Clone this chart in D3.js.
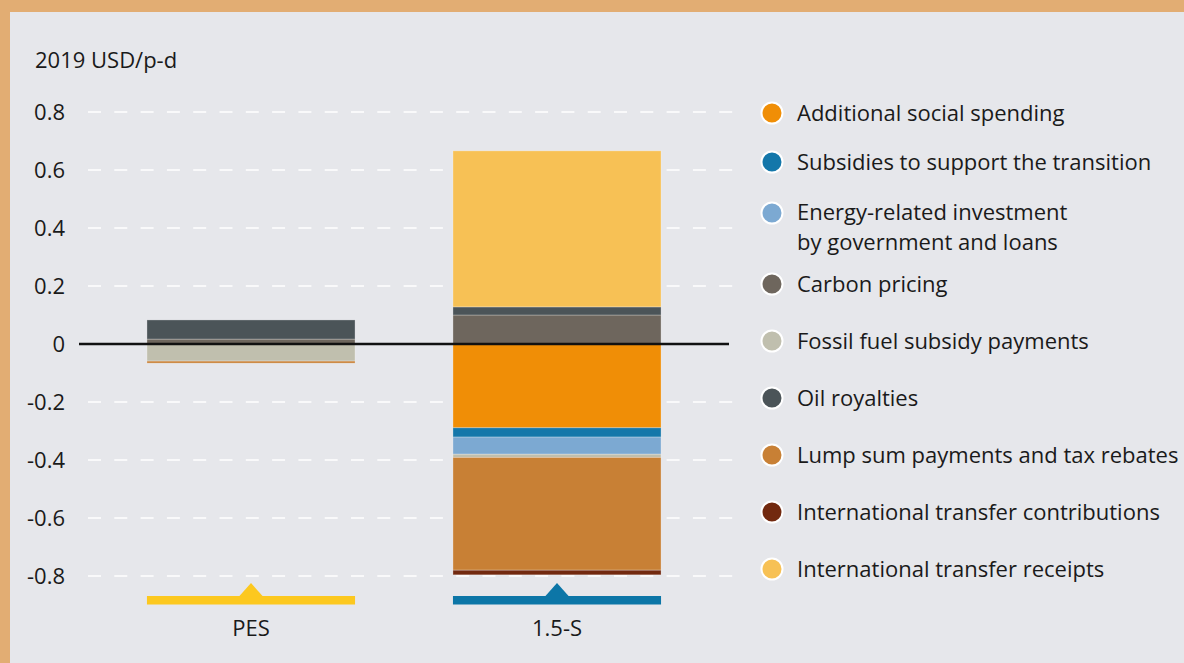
<!DOCTYPE html>
<html>
<head>
<meta charset="utf-8">
<script src="https://cdn.jsdelivr.net/npm/d3@7"></script>
<style>
  html, body { margin: 0; padding: 0; background: #E2AD73; }
  svg { display: block; }
</style>
</head>
<body>
<svg id="chart" width="1184" height="663"></svg>
<script>
// ---- data ----
const categories = ["PES", "1.5-S"];
const seriesNames = [
  "Additional social spending",
  "Subsidies to support the transition",
  "Energy-related investment by government and loans",
  "Carbon pricing",
  "Fossil fuel subsidy payments",
  "Oil royalties",
  "Lump sum payments and tax rebates",
  "International transfer contributions",
  "International transfer receipts"
];
const legendLabels = [
  ["Additional social spending"],
  ["Subsidies to support the transition"],
  ["Energy-related investment", "by government and loans"],
  ["Carbon pricing"],
  ["Fossil fuel subsidy payments"],
  ["Oil royalties"],
  ["Lump sum payments and tax rebates"],
  ["International transfer contributions"],
  ["International transfer receipts"]
];
const socialSpending   = [0, -0.289];
const subsidies        = [0, -0.032];
const energyInvestment = [0, -0.059];
const carbonPricing    = [0.017, 0.100];
const fossilSubsidy    = [-0.059, -0.011];
const oilRoyalties     = [0.066, 0.028];
const lumpSum          = [-0.007, -0.389];
const transferContrib  = [0, -0.016];
const transferReceipts = [0, 0.538];
const yTicks = [0.8, 0.6, 0.4, 0.2, 0, -0.2, -0.4, -0.6, -0.8];
const yTickLabels = ["0.8", "0.6", "0.4", "0.2", "0", "-0.2", "-0.4", "-0.6", "-0.8"];
const unitLabel = "2019 USD/p-d";

const seriesValues = [socialSpending, subsidies, energyInvestment, carbonPricing,
  fossilSubsidy, oilRoyalties, lumpSum, transferContrib, transferReceipts];
const colors = ["#F08E06", "#1477AA", "#7CA9D2", "#6E665D", "#C0BFAE",
  "#4B5458", "#C88035", "#72290F", "#F7C155"];
const markerColors = ["#FCC81F", "#0C76A7"];

// ---- build table ----
const table = categories.map((c, i) => {
  const row = { category: c };
  seriesNames.forEach((s, k) => row[s] = seriesValues[k][i]);
  return row;
});
const stacked = d3.stack().keys(seriesNames).offset(d3.stackOffsetDiverging)(table);

const FONT = "'Open Sans', Roboto, sans-serif";
const FS = 22;
const svg = d3.select("#chart");

// panel
svg.append("rect").attr("x", 10).attr("y", 12).attr("width", 1174).attr("height", 651)
  .attr("fill", "#E6E7EB");

const y = d3.scaleLinear().domain([-0.8, 0.8]).range([576, 112]);
const x = d3.scaleBand().domain(categories).range([98, 710]).paddingInner(0.32).paddingOuter(0.16);

// grid lines
svg.append("g").selectAll("line").data(yTicks.filter(t => t !== 0)).join("line")
  .attr("x1", 88).attr("x2", 740)
  .attr("y1", d => y(d)).attr("y2", d => y(d))
  .attr("stroke", "#ffffff").attr("stroke-width", 1.5)
  .attr("stroke-dasharray", "13,13.3");

// tick labels
svg.append("g").selectAll("text").data(yTicks).join("text")
  .attr("x", 65).attr("y", d => y(d) + 8)
  .attr("text-anchor", "end")
  .attr("font-family", FONT).attr("font-size", FS).attr("fill", "#1a1a1a")
  .text((d, i) => yTickLabels[i]);

svg.append("text").attr("x", 35).attr("y", 68)
  .attr("font-family", FONT).attr("font-size", FS).attr("fill", "#1a1a1a")
  .text(unitLabel);

// bars
const gBars = svg.append("g");
stacked.forEach((layer, k) => {
  gBars.append("g").selectAll("rect").data(layer).join("rect")
    .attr("x", d => x(d.data.category))
    .attr("width", x.bandwidth())
    .attr("y", d => y(Math.max(d[0], d[1])))
    .attr("height", d => Math.abs(y(d[0]) - y(d[1])))
    .attr("fill", colors[k])
    .attr("stroke", "rgba(255,255,255,0.35)")
    .attr("stroke-width", d => Math.abs(d[1] - d[0]) > 0 ? 0.8 : 0);
});

// zero line
svg.append("line").attr("x1", 79).attr("x2", 729)
  .attr("y1", y(0)).attr("y2", y(0))
  .attr("stroke", "#111").attr("stroke-width", 2.4);

// scenario markers
const gMark = svg.append("g");
categories.forEach((c, i) => {
  const x0 = x(c), bw = x.bandwidth(), cx = x0 + bw / 2;
  gMark.append("rect").attr("x", x0).attr("y", 596).attr("width", bw).attr("height", 8.5)
    .attr("fill", markerColors[i]);
  gMark.append("path")
    .attr("d", `M${cx - 12},596.5 L${cx},583 L${cx + 12},596.5 Z`)
    .attr("fill", markerColors[i]);
  svg.append("text").attr("x", cx).attr("y", 636)
    .attr("text-anchor", "middle")
    .attr("font-family", FONT).attr("font-size", FS).attr("fill", "#1a1a1a")
    .text(c);
});

// legend
const legendY = [113, 162, 213, 284, 341, 398, 455, 512, 569];
const gLeg = svg.append("g");
legendLabels.forEach((lines, k) => {
  const g = gLeg.append("g").attr("transform", `translate(0,${legendY[k]})`);
  g.append("circle").attr("cx", 772).attr("cy", 0).attr("r", 10.5)
    .attr("fill", colors[k]).attr("stroke", "#ffffff").attr("stroke-width", 2);
  const base = lines.length > 1 ? 6.5 : 8;
  lines.forEach((ln, j) => {
    g.append("text").attr("x", 797).attr("y", base + j * 30)
      .attr("font-family", FONT).attr("font-size", FS).attr("fill", "#1a1a1a")
      .text(ln);
  });
});
</script>
</body>
</html>
